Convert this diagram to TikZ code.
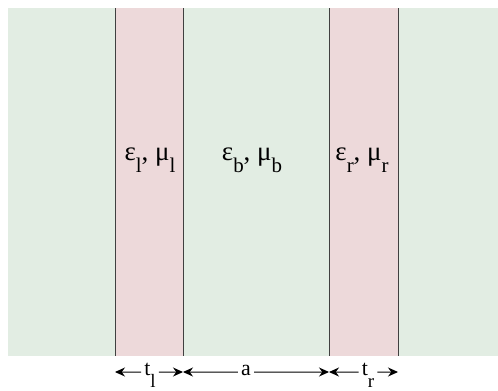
\documentclass[tikz,border=0pt]{standalone}
\usepackage{fontspec}
\setmainfont{Liberation Serif}
\usetikzlibrary{arrows.meta, positioning}
\definecolor{bggreen}{HTML}{E2EDE3}
\definecolor{slabpink}{HTML}{EDD9DA}
\newcommand{\lowsub}[2][21]{\raisebox{-12bp}{\fontsize{#1}{#1}\selectfont #2}}

\begin{document}
\begin{tikzpicture}[
    x=1bp, y=-1bp,
    slab/.style={
      fill=slabpink,
      inner sep=0pt,
      minimum width=68bp,
      minimum height=348bp,
      anchor=north west
    },
    wall/.style={
      draw=black!75,
      line width=1bp
    },
    matlab/.style={
      font=\fontsize{27}{27}\selectfont,
      inner sep=0pt,
      anchor=base
    },
    dimlab/.style={
      font=\fontsize{22}{22}\selectfont,
      inner sep=3bp,
      anchor=base
    },
    dimarr/.style={-{Stealth[length=10bp, width=9bp]}, line width=1bp}
]
  \useasboundingbox (0,0) rectangle (498,390);

  % Background medium
  \fill[bggreen] (8,8) rectangle (498,356);

  % Slabs
  \node[slab] (lslab) at (115,8) {};
  \node[slab, minimum width=69bp] (rslab) at (329,8) {};

  % Slab walls
  \draw[wall] (lslab.north west) -- (lslab.south west);
  \draw[wall] (lslab.north east) -- (lslab.south east);
  \draw[wall] (rslab.north west) -- (rslab.south west);
  \draw[wall] (rslab.north east) -- (rslab.south east);

  % Material labels
  \node[matlab] (lmat) at (150,160) {ε\lowsub{l}, μ\lowsub{l}};
  \node[matlab] (bmat) at (252,160) {ε\lowsub{b}, μ\lowsub{b}};
  \node[matlab] (rmat) at (362,160) {ε\lowsub{r}, μ\lowsub{r}};

  % Dimension labels
  \node[dimlab] (tl) at (150,375) {t\lowsub[19]{l}};
  \node[dimlab] (gap) at (246,375) {a};
  \node[dimlab] (tr) at (368,375) {t\lowsub[19]{r}};

  % Arrow ends on the slab walls
  \coordinate (w1) at (115,372);
  \coordinate (w2) at (183,372);
  \coordinate (w3) at (329,372);
  \coordinate (w4) at (398,372);

  % Dimension arrows
  \draw[dimarr] ([yshift=3bp]tl.base west)  -- (w1);
  \draw[dimarr] ([yshift=3bp]tl.base east)  -- (w2);
  \draw[dimarr] ([yshift=3bp]gap.base west) -- (w2);
  \draw[dimarr] ([yshift=3bp]gap.base east) -- (w3);
  \draw[dimarr] ([yshift=3bp]tr.base west)  -- (w3);
  \draw[dimarr] ([yshift=3bp]tr.base east)  -- (w4);
\end{tikzpicture}
\end{document}
